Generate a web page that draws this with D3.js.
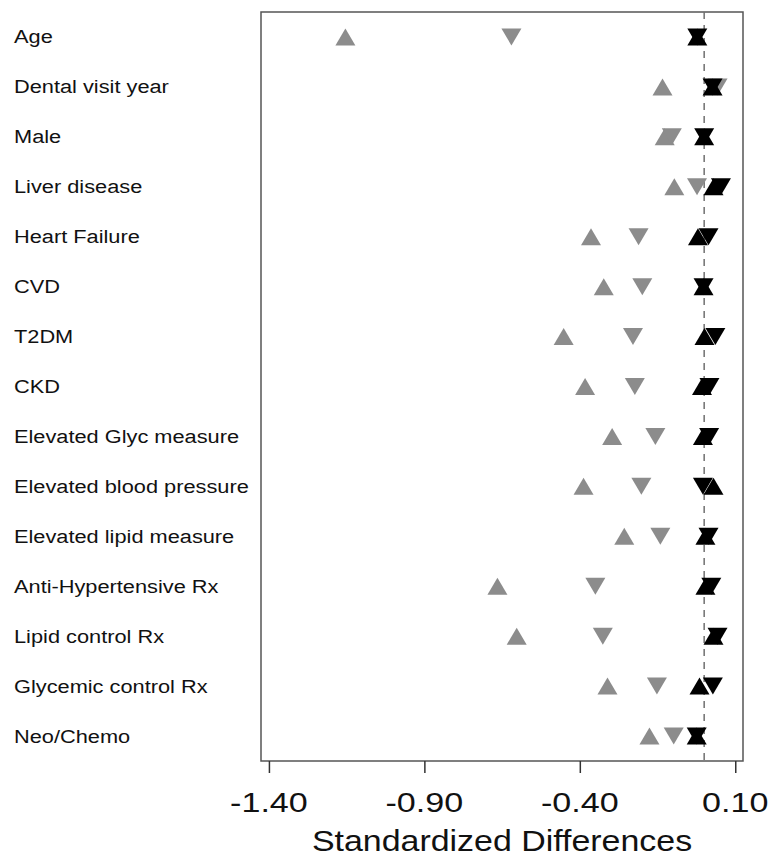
<!DOCTYPE html>
<html>
<head>
<meta charset="utf-8">
<script src="https://cdn.jsdelivr.net/npm/d3@7"></script>
<style>
  html, body { margin: 0; padding: 0; background: #fff; }
  svg { display: block; }
  text { font-family: "Liberation Sans", Arial, Helvetica, sans-serif; fill: #111; }
</style>
</head>
<body>
<svg id="chart" width="771" height="858"></svg>
<script>
const categories = [
  "Age", "Dental visit year", "Male", "Liver disease", "Heart Failure", "CVD",
  "T2DM", "CKD", "Elevated Glyc measure", "Elevated blood pressure",
  "Elevated lipid measure", "Anti-Hypertensive Rx", "Lipid control Rx",
  "Glycemic control Rx", "Neo/Chemo"
];
const grayUp    = [-1.154, -0.134, -0.127, -0.096, -0.364, -0.323, -0.452, -0.383, -0.296, -0.388, -0.257, -0.665, -0.603, -0.311, -0.176];
const grayDown  = [-0.620,  0.043, -0.104, -0.023, -0.211, -0.199, -0.229, -0.223, -0.157, -0.202, -0.141, -0.350, -0.326, -0.152, -0.098];
const blackUp   = [-0.022,  0.027,  0.000,  0.030, -0.020, -0.002,  0.001, -0.007, -0.004,  0.030,  0.004,  0.004,  0.030, -0.015, -0.024];
const blackDown = [-0.022,  0.027,  0.000,  0.054,  0.014, -0.002,  0.036,  0.017,  0.016, -0.004,  0.014,  0.023,  0.043,  0.028, -0.024];
const tickValues = [-1.40, -0.90, -0.40, 0.10];
const refLine = 0;
const xTitle = "Standardized Differences";

const svg = d3.select("#chart");
const plot = { left: 261, right: 743, top: 12, bottom: 761 };

const x = d3.scaleLinear().domain([-1.4255, 0.1249]).range([plot.left, plot.right]);
const y = d3.scalePoint().domain(categories).range([plot.top, plot.bottom]).padding(0.5);

// frame
svg.append("rect")
  .attr("x", plot.left).attr("y", plot.top)
  .attr("width", plot.right - plot.left).attr("height", plot.bottom - plot.top)
  .attr("fill", "none").attr("stroke", "#555").attr("stroke-width", 1.5);

// reference dashed line
svg.append("line")
  .attr("x1", x(refLine)).attr("x2", x(refLine))
  .attr("y1", plot.top).attr("y2", plot.bottom)
  .attr("stroke", "#707070").attr("stroke-width", 1.5)
  .attr("stroke-dasharray", "7,6");

// markers
const W = 10, H = 8.5;
const upPath = `M0,${-H}L${W},${H}L${-W},${H}Z`;
const downPath = `M${-W},${-H}L${W},${-H}L0,${H}Z`;
const series = [
  { vals: grayUp, path: upPath, color: "#8c8c8c" },
  { vals: grayDown, path: downPath, color: "#8c8c8c" },
  { vals: blackUp, path: upPath, color: "#000" },
  { vals: blackDown, path: downPath, color: "#000" }
];
series.forEach(s => {
  svg.append("g").selectAll("path")
    .data(categories.map((c, i) => ({ c, v: s.vals[i] })))
    .join("path")
    .attr("d", s.path)
    .attr("transform", d => `translate(${x(d.v)},${y(d.c)})`)
    .attr("fill", s.color);
});

// category labels
svg.append("g").selectAll("text")
  .data(categories)
  .join("text")
  .attr("transform", d => `translate(14,${y(d) + 6.5}) scale(1.21,1)`)
  .attr("font-size", 18)
  .text(d => d);

// x axis
const axis = d3.axisBottom(x).tickValues(tickValues).tickSize(12).tickFormat(d => "");
const gx = svg.append("g").attr("transform", `translate(0,${plot.bottom})`).call(axis);
gx.select(".domain").remove();
gx.selectAll(".tick line").attr("stroke", "#333").attr("stroke-width", 1.5);

svg.append("g").selectAll("text")
  .data(tickValues)
  .join("text")
  .attr("transform", d => `translate(${x(d)},812) scale(1.24,1)`)
  .attr("text-anchor", "middle")
  .attr("font-size", 27.5)
  .text(d => d.toFixed(2));

svg.append("text")
  .attr("transform", `translate(${(plot.left + plot.right) / 2},851) scale(1.17,1)`)
  .attr("text-anchor", "middle")
  .attr("font-size", 29)
  .text(xTitle);
</script>
</body>
</html>
